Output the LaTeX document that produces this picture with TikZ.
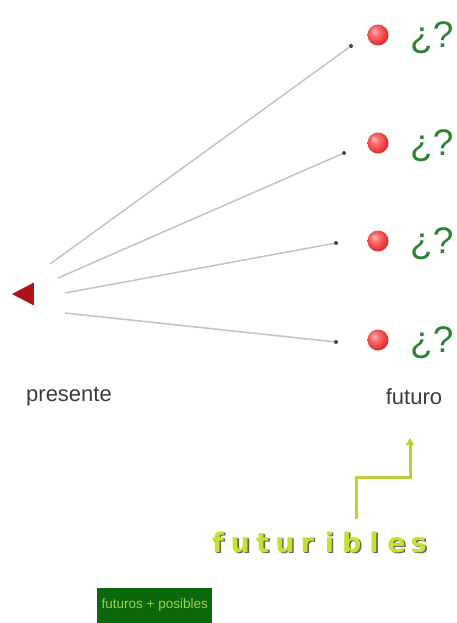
\documentclass[tikz,border=0pt]{standalone}
\usepackage{fontspec}
\setmainfont{Liberation Sans}
\newfontfamily\futfont{DejaVu Sans}[BoldFont={DejaVu Sans Bold}]
\usetikzlibrary{arrows.meta,shapes.geometric}
\definecolor{qgreen}{HTML}{2E8233}
\definecolor{linegray}{HTML}{B8CAB8}
\definecolor{dotgray}{HTML}{3A4A3A}
\definecolor{lime}{HTML}{B4D33A}
\definecolor{limetext}{HTML}{C6E22E}
\definecolor{boxgreen}{HTML}{0C680C}
\definecolor{boxtext}{HTML}{9ED04A}
\definecolor{labelgray}{HTML}{3C3C3C}
\definecolor{trired}{HTML}{B0121A}
\pgfdeclareradialshading{redsphere}{\pgfpoint{-9bp}{10bp}}{%
  color(0bp)=(red!25!white); color(9bp)=(red!55!white);
  color(24bp)=(red!75!white!90!black); color(40bp)=(red!70!black); color(50bp)=(red!55!black)}
\newcommand{\shadowed}[1]{\makebox[0pt][l]{\hspace{1.6pt}\raisebox{-1.6pt}{\textcolor{black!60}{#1}}}\textcolor{limetext}{#1}}
\tikzset{
  fan/.style={draw=linegray, line width=1.5pt},
  enddot/.style={circle, fill=dotgray, inner sep=0pt, minimum size=4pt},
  redball/.style={circle, shading=redsphere, inner sep=0pt, minimum size=21pt},
  qmark/.style={text=qgreen, font=\fontsize{37}{38}\selectfont, inner sep=0pt, anchor=west},
  timelabel/.style={text=labelgray, font=\fontsize{22}{24}\selectfont, inner sep=0pt},
  limeline/.style={draw=lime, line width=3pt},
  futletter/.style={font=\futfont\bfseries\fontsize{27}{28}\selectfont, inner sep=0pt, anchor=base}
}
\begin{document}
\begin{tikzpicture}[x=1pt,y=-1pt]
\useasboundingbox (0,0) rectangle (456,623);
% red triangle (presente marker)
\node[fill=trired, isosceles triangle, isosceles triangle apex angle=55, shape border rotate=180, inner sep=0pt, minimum height=22pt, minimum width=22pt] (tri) at (27,294) {};
% line starts
\coordinate (s1) at (50,264);
\coordinate (s2) at (58,278);
\coordinate (s3) at (65,293);
\coordinate (s4) at (65,313);
% end dots
\node[enddot] (d1) at (351,46) {};
\node[enddot] (d2) at (344,153) {};
\node[enddot] (d3) at (336,243) {};
\node[enddot] (d4) at (336,342) {};
\draw[fan] (s1) -- (d1);
\draw[fan] (s2) -- (d2);
\draw[fan] (s3) -- (d3);
\draw[fan] (s4) -- (d4);
% balls
\node[redball] (b1) at (378,35) {};
\node[redball] (b2) at (378,143) {};
\node[redball] (b3) at (378,241) {};
\node[redball] (b4) at (378,340) {};
% question marks
\node[qmark] (q1) at (410,38) {¿?};
\node[qmark] (q2) at (410,146) {¿?};
\node[qmark] (q3) at (410,244) {¿?};
\node[qmark] (q4) at (410,343) {¿?};
% labels
\node[timelabel] (pres) at (69,397) {presente};
\node[timelabel] (fut) at (414,397) {futuro};
% lime connector
\coordinate (c0) at (356,519);
\coordinate (c1) at (356,477);
\coordinate (c2) at (410,477);
\coordinate (c3) at (410,438);
\draw[limeline, -{Triangle[width=8pt,length=7pt]}] (c0) -- (c1) -- (c2) -- (c3);
% futuribles
\foreach \ch [count=\i from 0] in {f,u,t,u,r,i,b,l,e,s} {
  \node[futletter] (fl\i) at (218+22.3*\i,552) {\shadowed{\ch}};
}
% green box
\node[fill=boxgreen, text=boxtext, font=\fontsize{13.5}{14}\selectfont, minimum width=115pt, minimum height=36pt, inner sep=0pt, anchor=north west] (box) at (97,588) {\raisebox{6pt}{futuros + posibles}};
\end{tikzpicture}
\end{document}
